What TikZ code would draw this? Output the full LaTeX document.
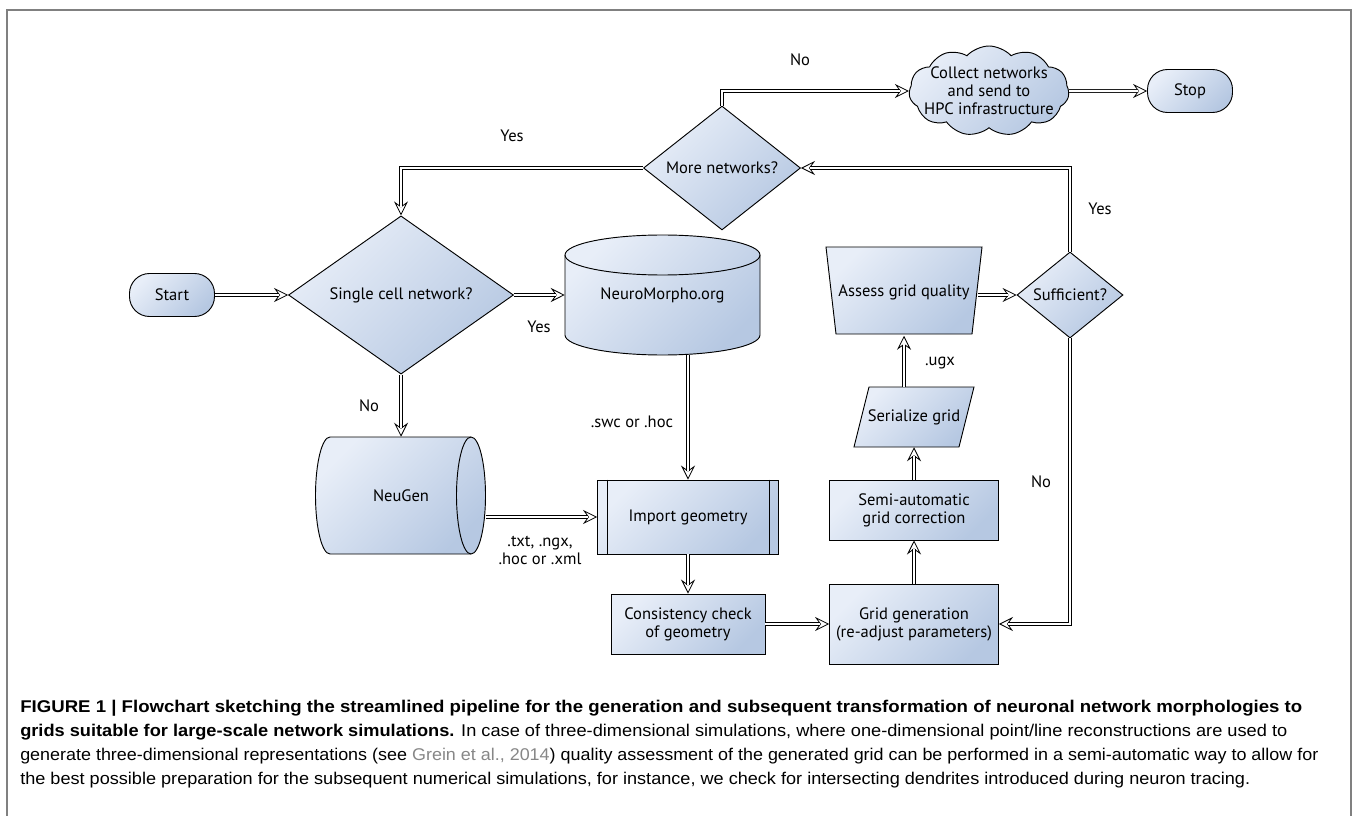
\documentclass[tikz,border=0pt]{standalone}
\usepackage{fontspec}
\usepackage{graphicx}
\setmainfont{PT Sans}
\newfontfamily\capfont{Liberation Sans}
\usetikzlibrary{arrows.meta,shapes.geometric,shapes.symbols}
\newcommand\pxu{0.75pt}
\newcommand\dfont{\fontsize{12.4pt}{13.5pt}\selectfont}
\newcommand\cfont{\capfont\fontsize{12.75pt}{15pt}\selectfont}
\definecolor{gl}{RGB}{232,238,248}
\definecolor{gr}{RGB}{182,200,226}
\definecolor{framegray}{RGB}{128,128,128}
\definecolor{linkgray}{RGB}{135,135,135}
\newcommand\dconn[1]{\draw[tipline] #1; \draw[dlout] #1; \draw[dlin] #1;}
\begin{document}
\begin{tikzpicture}[x=0.75pt, y=-0.75pt, font=\dfont,
  fillshade/.style={top color=gl, bottom color=gr, shading angle=45},
  outline/.style={draw=black, line width=0.7pt},
  shp/.style={fillshade, outline},
  term/.style={shp, rectangle, rounded corners=15pt, minimum width=85*\pxu, minimum height=43*\pxu, inner sep=0},
  proc/.style={shp, rectangle, align=center, inner sep=0},
  dec/.style={shp, diamond, inner sep=0},
  ghost/.style={rectangle, inner sep=0, align=center},
  lbl/.style={inner sep=0, align=center},
  capl/.style={inner sep=0, anchor=base west, font=\cfont},
  tipline/.style={line width=0.6pt, -{Stealth[fill=white, length=10.5pt, width=10.5pt, inset=3.75pt]}},
  dlout/.style={draw=black, line width=2.8pt, shorten >=6.75pt},
  dlin/.style={draw=white, line width=1.6pt, shorten >=6.5pt}
]
\useasboundingbox (0,0) rectangle (1358,816);
% frame
\draw[framegray, line width=1.1pt] (7,830) -- (7,10) -- (1351,10) -- (1351,830);

% ---- custom shapes ----
% NeuroMorpho cylinder
\path[shp] (565,255) -- (565,335) arc[start angle=180, end angle=0, x radius=97.5, y radius=20]
  -- (760,255) arc[start angle=0, end angle=-180, x radius=97.5, y radius=20] -- cycle;
\draw[outline] (565,255) arc[start angle=180, end angle=0, x radius=97.5, y radius=20];
\node[ghost, minimum width=195*\pxu, minimum height=120*\pxu] (nm) at (662.5,295) {NeuroMorpho.org};
% NeuGen (direct access storage)
\path[shp] (330,437) -- (471,437) arc[start angle=-90, end angle=90, x radius=14.5, y radius=58.5]
  -- (330,554) arc[start angle=90, end angle=270, x radius=14.5, y radius=58.5] -- cycle;
\draw[outline] (471,437) arc[start angle=270, end angle=90, x radius=14.5, y radius=58.5];
\node[ghost, minimum width=170*\pxu, minimum height=117*\pxu] (neugen) at (401,495.5) {NeuGen};
% Assess grid quality (trapezoid)
\path[shp] (826,247) -- (982,247) -- (972,334) -- (836,334) -- cycle;
\node[ghost, minimum width=156*\pxu, minimum height=87*\pxu] (assess) at (904,292) {Assess grid quality};
\coordinate (assessE) at (978,295);
% Serialize grid (parallelogram)
\path[shp] (869,387) -- (974,387) -- (959,447) -- (854,447) -- cycle;
\node[ghost, minimum width=110*\pxu, minimum height=60*\pxu] (serial) at (914,417) {Serialize grid};

% ---- standard nodes ----
\node[term] (start) at (172,295) {Start};
\node[term] (stop) at (1190,91) {Stop};
\node[dec, minimum width=225*\pxu, minimum height=155*\pxu] (single) at (401,295) {Single cell network?};
\node[dec, minimum width=157*\pxu, minimum height=95*\pxu] (more) at (722,168) {More networks?};
\node[dec, minimum width=106*\pxu, minimum height=58*\pxu] (suff) at (1070,295) {Sufficient?};
\node[proc, minimum width=181*\pxu, minimum height=74*\pxu] (import) at (688,517) {Import geometry};
\draw[outline] ([xshift=10*\pxu]import.north west) -- ([xshift=10*\pxu]import.south west)
               ([xshift=-10*\pxu]import.north east) -- ([xshift=-10*\pxu]import.south east);
\node[proc, minimum width=154*\pxu, minimum height=60*\pxu] (consist) at (688,624) {Consistency check\\of geometry};
\node[proc, minimum width=169*\pxu, minimum height=80*\pxu] (gridgen) at (914,624) {Grid generation\\(re-adjust parameters)};
\node[proc, minimum width=169*\pxu, minimum height=60*\pxu] (semi) at (914,510) {Semi-automatic\\grid correction};
\node[shp, cloud, cloud puffs=11, cloud puff arc=95, aspect=1.8, minimum width=160*\pxu, minimum height=90*\pxu, inner sep=0] (cloud) at (989,91) {};
\node[lbl] (cloudtext) at (cloud.center) {Collect networks\\and send to\\HPC infrastructure};

% ---- connectors ----
\dconn{(start.east) -- (single.west)}
\dconn{(single.east) -- (nm.west)}
\dconn{(single.south) -- (neugen.north)}
\dconn{(neugen.east |- import.west) -- (import.west)}
\dconn{(nm.south -| import.north) -- (import.north)}
\dconn{(import.south) -- (consist.north)}
\dconn{(consist.east) -- (gridgen.west)}
\dconn{(gridgen.north) -- (semi.south)}
\dconn{(semi.north) -- (serial.south)}
\dconn{(serial.north -| assess.south) -- (assess.south)}
\dconn{(assessE) -- (suff.west)}
\dconn{(suff.north) |- (more.east)}
\dconn{(suff.south) |- (gridgen.east)}
\dconn{(more.west) -| (single.north)}
\dconn{(more.north) |- (cloud.west)}
\dconn{(cloud.east) -- (stop.west)}

% ---- labels ----
\node[lbl] (lNo1) at (800,60) {No};
\node[lbl] (lYes1) at (512,136) {Yes};
\node[lbl] (lYes2) at (539,327) {Yes};
\node[lbl] (lNo2) at (369,406) {No};
\node[lbl] (lswc) at (632,422) {.swc or .hoc};
\node[lbl] (ltxt) at (540,550) {.txt, .ngx,\\.hoc or .xml};
\node[lbl] (lugx) at (940,363) {.ugx};
\node[lbl] (lYes3) at (1100,209) {Yes};
\node[lbl] (lNo3) at (1041,482) {No};

% ---- caption ----
\node[capl] (cap1) at (20,712) {\resizebox{961.5pt}{\height}{\bfseries FIGURE 1 | Flowchart sketching the streamlined pipeline for the generation and subsequent transformation of neuronal network morphologies to}};
\node[capl] (cap2) at (20,736) {\resizebox{950.25pt}{\height}{\textbf{grids suitable for large-scale network simulations.} In case of three-dimensional simulations, where one-dimensional point/line reconstructions are used to}};
\node[capl] (cap3) at (20,760) {\resizebox{973.5pt}{\height}{generate three-dimensional representations (see \textcolor{linkgray}{Grein et al., 2014}) quality assessment of the generated grid can be performed in a semi-automatic way to allow for}};
\node[capl] (cap4) at (20,784) {\resizebox{922.5pt}{\height}{the best possible preparation for the subsequent numerical simulations, for instance, we check for intersecting dendrites introduced during neuron tracing.}};
\end{tikzpicture}
\end{document}
